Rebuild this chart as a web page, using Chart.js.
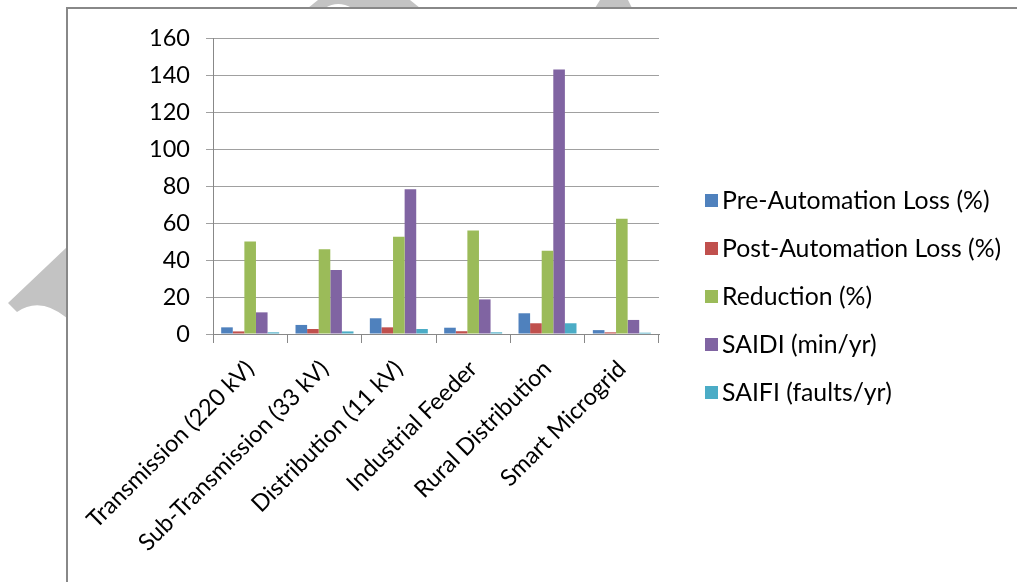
<!DOCTYPE html>
<html>
<head>
<meta charset="utf-8">
<script src="https://cdn.jsdelivr.net/npm/chart.js@4.4.1/dist/chart.umd.min.js"></script>
<style>
  html, body { margin: 0; padding: 0; background: #fff; overflow: hidden; }
  #wrap { position: relative; width: 1017px; height: 582px; }
  #frame { position: absolute; left: 66px; top: 7px; width: 1000px; height: 700px;
           border-left: 2px solid #888; border-top: 2px solid #888; }
  #mark { position: absolute; left: 0; top: 0; }
  canvas { position: absolute; left: 0; top: 0; }
</style>
</head>
<body>
<div id="wrap">
  <svg id="mark" width="1017" height="582">
    <path d="M67,247 L8,303 L17,312 Q40,296 67,318 Z" fill="#c3c3c3"/>
    <path d="M308,8 L318,0 L410,0 L420,8 L352,8 Q338,0 325,8 Z" fill="#c3c3c3"/>
    <path d="M595,8 L600,0 L628,0 L632,8 Z" fill="#c3c3c3"/>
  </svg>
  <div id="frame"></div>
  <canvas id="lossChart" width="1017" height="582"></canvas>
</div>
<script>
// Feeder categories and measured values
const categories = [
  'Transmission (220 kV)',
  'Sub-Transmission (33 kV)',
  'Distribution (11 kV)',
  'Industrial Feeder',
  'Rural Distribution',
  'Smart Microgrid',
];
const preLoss = [3.6, 4.9, 8.5, 3.4, 11.2, 2.1];
const postLoss = [1.4, 2.7, 3.6, 1.5, 5.8, 0.9];
const reduction = [50, 45.8, 52.6, 56, 45, 62.3];
const saidi = [11.7, 34.6, 78.2, 18.7, 143, 7.6];
const saifi = [0.9, 1.4, 2.7, 0.9, 5.8, 0.7];
const yTicks = [0, 20, 40, 60, 80, 100, 120, 140, 160];

const font = { family: 'Lato', size: 23.5 };
const legendFont = { family: 'Lato', size: 24.8 };

// Legend on the right, laid out like the Excel one (box, small gap, label)
const sideLegend = {
  id: 'sideLegend',
  afterDraw(chart) {
    const c = chart.ctx;
    const sets = chart.data.datasets;
    c.save();
    c.font = `${legendFont.size}px ${legendFont.family}`;
    c.textBaseline = 'middle';
    sets.forEach((ds, i) => {
      const y = 200 + i * 48;
      c.fillStyle = ds.backgroundColor;
      c.fillRect(705, y - 6, 13, 13);
      c.fillStyle = '#000';
      c.fillText(ds.label, 722, y + 1);
    });
    c.restore();
  },
};

function drawChart() {
  const ctx = document.getElementById('lossChart');
  if (!ctx) return;
  new Chart(ctx, {
    type: 'bar',
    data: {
      labels: categories,
      datasets: [
        { label: 'Pre-Automation Loss (%)', data: preLoss, backgroundColor: '#4f81bd' },
        { label: 'Post-Automation Loss (%)', data: postLoss, backgroundColor: '#c0504d' },
        { label: 'Reduction (%)', data: reduction, backgroundColor: '#9bbb59' },
        { label: 'SAIDI (min/yr)', data: saidi, backgroundColor: '#8064a2' },
        { label: 'SAIFI (faults/yr)', data: saifi, backgroundColor: '#4bacc6' },
      ],
    },
    plugins: [sideLegend],
    options: {
      responsive: false,
      animation: false,
      datasets: { bar: { categoryPercentage: 0.78, barPercentage: 1 } },
      layout: { padding: { top: 38, left: 0, bottom: 0, right: 358 } },
      plugins: {
        tooltip: { enabled: false },
        legend: { display: false },
      },
      scales: {
        y: {
          min: 0,
          max: 160,
          afterFit: (s) => { s.width = 213; },
          afterBuildTicks: (s) => { s.ticks = yTicks.map((v) => ({ value: v })); },
          grid: { color: '#a0a0a0', tickLength: 7 },
          border: { color: '#888' },
          ticks: { color: '#000', font: font, padding: 16 },
        },
        x: {
          afterFit: (s) => { s.height = 248; },
          grid: { display: true, offset: true, drawOnChartArea: false, tickLength: 9, color: '#888' },
          border: { color: '#888' },
          ticks: { color: '#000', font: font, minRotation: 45, maxRotation: 45, padding: 12 },
        },
      },
    },
  });
}

// wait for the font so text widths are measured right
document.fonts.load('23px Lato').then(drawChart, drawChart);
</script>
</body>
</html>
